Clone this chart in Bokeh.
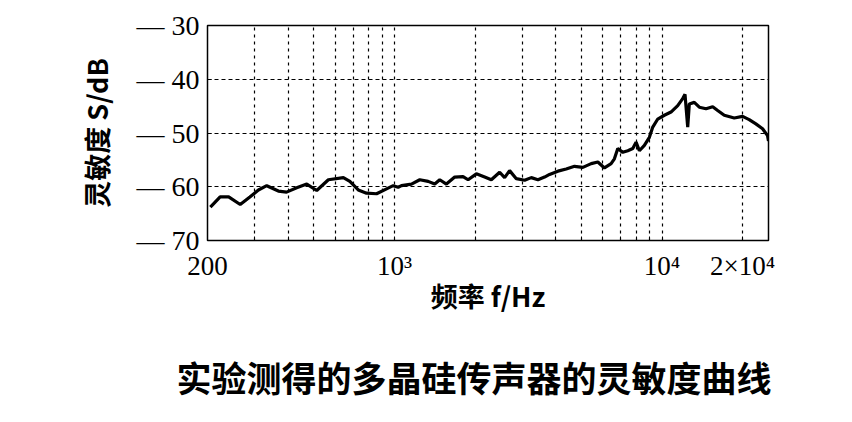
from bokeh.plotting import figure
from bokeh.models import FixedTicker, Title, ColumnDataSource
from bokeh.layouts import column
from bokeh.embed import file_html
from bokeh.resources import INLINE

# --- data (frequency in Hz, sensitivity in dB) ---
freq = [205, 223, 240, 265, 288, 310, 333, 368, 395, 431, 470, 512, 566, 644, 681,
        732, 786, 857, 934, 989, 1032, 1062, 1157, 1243, 1336, 1414, 1476, 1563,
        1679, 1804, 1884, 2023, 2173, 2301, 2472, 2580, 2693, 2853, 3064, 3245, 3437,
        3638, 3798, 4082, 4384, 4708, 5059, 5435, 5755, 6091, 6452, 6637, 6834, 7135,
        7447, 7775, 7998, 8228, 8590, 8968, 9233, 9638, 10200, 10803, 11445, 11946,
        12186, 12473, 12646, 13199, 13784, 14600, 15466, 16140, 17082, 18617, 20005,
        21171, 22425, 23754, 24797, 25000]
sens = [-63.8, -61.9, -61.9, -63.3, -61.9, -60.6, -59.8, -60.8, -61.0, -60.2, -59.5,
        -60.7, -58.7, -58.3, -59.0, -60.6, -61.2, -61.3, -60.4, -59.8, -60.1, -59.8,
        -59.5, -58.7, -59.0, -59.5, -58.7, -59.5, -58.2, -58.1, -58.7, -57.6, -58.2,
        -58.7, -57.3, -58.3, -57.0, -58.5, -58.8, -58.3, -58.7, -58.2, -57.7, -57.1,
        -56.7, -56.2, -56.4, -55.7, -55.4, -56.5, -55.7, -54.8, -52.9, -53.6, -53.3,
        -52.9, -51.7, -53.3, -52.3, -50.8, -48.9, -47.4, -46.7, -46.1, -44.9, -43.6,
        -42.8, -48.9, -44.6, -44.3, -45.2, -45.5, -45.1, -45.8, -46.7, -47.2, -46.9,
        -47.5, -48.3, -49.2, -50.5, -51.5]

x_major = [200, 1000, 10000, 20000]
x_major_labels = ["200", "10\u00b3", "10\u2074", "2\u00d710\u2074"]
x_minor = [300, 400, 500, 600, 700, 800, 900, 2000, 3000, 4000, 5000, 6000, 7000,
           8000, 9000]
x_grid = [300, 400, 500, 600, 700, 800, 900, 1000, 2000, 3000, 4000, 5000, 6000,
          7000, 8000, 9000, 10000, 20000]
y_ticks = [-70, -60, -50, -40, -30]
y_tick_labels = ["\u2014 70", "\u2014 60", "\u2014 50", "\u2014 40", "\u2014 30"]
y_grid = [-60, -50, -40]

x_title = "频率 f/Hz"
y_title = "灵敏度 S/dB"
caption = "实验测得的多晶硅传声器的灵敏度曲线"

p = figure(width=836, height=322, x_axis_type="log", x_range=(200, 25000),
           y_range=(-70, -30), output_backend="svg", toolbar_location=None,
           min_border_left=207, min_border_right=68, min_border_top=25,
           min_border_bottom=82, title=None)
p.background_fill_color = "white"
p.border_fill_color = "white"
p.outline_line_color = "black"
p.outline_line_width = 1.5

src = ColumnDataSource(dict(f=freq, s=sens))
p.line("f", "s", source=src, line_color="black", line_width=3.2)

# x axis
p.xaxis.ticker = FixedTicker(ticks=x_major, minor_ticks=x_minor)
p.xaxis.major_label_overrides = {t: l for t, l in zip(x_major, x_major_labels)}
p.xaxis.major_label_text_font = "Liberation Serif"
p.xaxis.major_label_text_font_size = "27px"
p.xaxis.major_label_text_color = "black"
p.xaxis.major_label_standoff = 10
p.xaxis.major_tick_in = 4
p.xaxis.major_tick_out = 0
p.xaxis.minor_tick_in = 4
p.xaxis.minor_tick_out = 0
p.xaxis.axis_line_color = "black"
p.xaxis.axis_label = x_title
p.xaxis.axis_label_text_font = "Noto Sans CJK SC"
p.xaxis.axis_label_text_font_style = "bold"
p.xaxis.axis_label_text_font_size = "27px"
p.xaxis.axis_label_text_color = "black"
p.xaxis.axis_label_standoff = -8

# y axis
p.yaxis.ticker = FixedTicker(ticks=y_ticks)
p.yaxis.major_label_overrides = {t: l for t, l in zip(y_ticks, y_tick_labels)}
p.yaxis.major_label_text_font = "Liberation Serif"
p.yaxis.major_label_text_font_size = "28px"
p.yaxis.major_label_text_color = "black"
p.yaxis.major_label_standoff = 8
p.yaxis.major_tick_in = 4
p.yaxis.major_tick_out = 0
p.yaxis.minor_tick_line_color = None
p.yaxis.axis_line_color = "black"
p.yaxis.axis_label = y_title
p.yaxis.axis_label_text_font = "Noto Sans CJK SC"
p.yaxis.axis_label_text_font_style = "bold"
p.yaxis.axis_label_text_font_size = "27px"
p.yaxis.axis_label_text_color = "black"
p.yaxis.axis_label_standoff = 18

# grids
p.xgrid.ticker = FixedTicker(ticks=x_grid)
p.xgrid.grid_line_color = "black"
p.xgrid.grid_line_dash = "3 4"
p.xgrid.grid_line_width = 1.2
p.ygrid.ticker = FixedTicker(ticks=y_grid)
p.ygrid.grid_line_color = "black"
p.ygrid.grid_line_dash = "4 3"
p.ygrid.grid_line_width = 1.2

# caption panel (a title of an empty, frameless figure below the chart)
pc = figure(width=836, height=92, output_backend="svg", toolbar_location=None,
            x_axis_location=None, y_axis_location=None, min_border_left=0,
            min_border_right=0, min_border_bottom=0, min_border_top=79,
            x_range=(0, 1), y_range=(0, 1), title=None)
pc.outline_line_color = None
pc.grid.visible = False
pc.background_fill_color = "white"
pc.border_fill_color = "white"
cap = Title(text=caption, align="left", offset=-31, standoff=0,
            text_font="Noto Sans CJK SC", text_font_style="bold",
            text_font_size="35px", text_color="black")
pc.add_layout(cap, "above")

layout = column(p, pc, spacing=0)
open("out.html", "w").write(file_html(layout, INLINE))
